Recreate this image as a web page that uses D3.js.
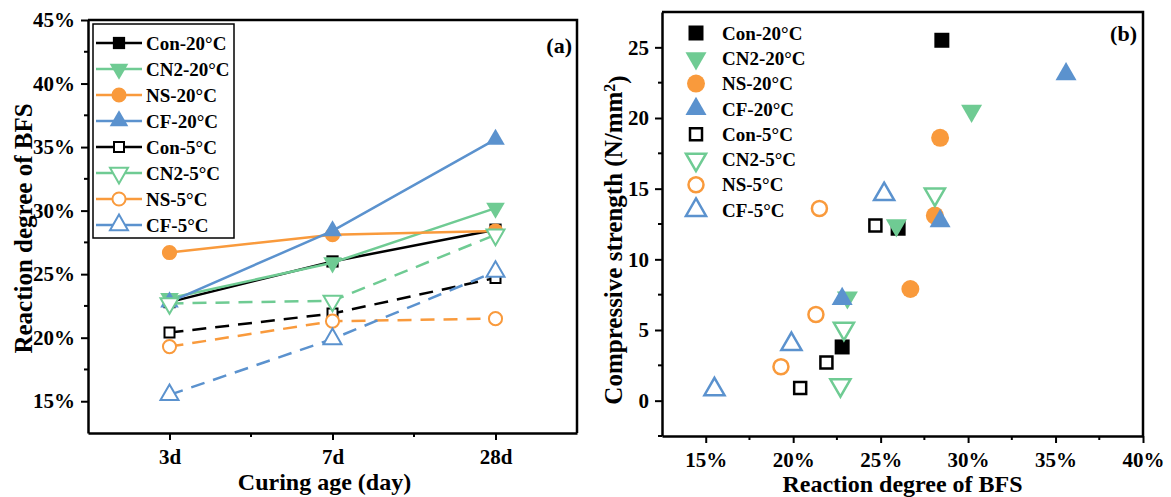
<!DOCTYPE html>
<html>
<head>
<meta charset="utf-8">
<script src="https://cdn.jsdelivr.net/npm/d3@7"></script>
<style>
  body { margin: 0; background: #fff; }
  svg { display: block; }
  text { font-family: "Liberation Serif", "Times New Roman", serif; font-weight: bold; fill: #000; }
</style>
</head>
<body>
<svg id="chart" width="1171" height="497"></svg>
<script>
// ---- data ----
var ages = ['3d', '7d', '28d'];
var seriesNames = ['Con-20°C', 'CN2-20°C', 'NS-20°C', 'CF-20°C', 'Con-5°C', 'CN2-5°C', 'NS-5°C', 'CF-5°C'];

// reaction degree of BFS (%) at 3d, 7d, 28d
var reactCon20 = [22.8, 26.0, 28.5];
var reactCN220 = [23.1, 25.9, 30.2];
var reactNS20  = [26.7, 28.1, 28.4];
var reactCF20  = [22.8, 28.4, 35.6];
var reactCon5  = [20.4, 21.9, 24.7];
var reactCN25  = [22.7, 22.9, 28.1];
var reactNS5   = [19.3, 21.3, 21.5];
var reactCF5   = [15.5, 19.9, 25.2];

// compressive strength (N/mm2) at 3d, 7d, 28d
var strCon20 = [3.8, 12.2, 25.5];
var strCN220 = [7.3, 12.4, 20.5];
var strNS20  = [7.9, 13.1, 18.6];
var strCF20  = [7.2, 12.7, 23.1];
var strCon5  = [0.9, 2.7, 12.4];
var strCN25  = [1.1, 5.1, 14.6];
var strNS5   = [2.4, 6.1, 13.6];
var strCF5   = [0.8, 4.0, 14.6];

var pctTicks = [15, 20, 25, 30, 35, 40, 45];
var bfsTicks = [15, 20, 25, 30, 35, 40];
var strengthTicks = [0, 5, 10, 15, 20, 25];

var reactAll = [reactCon20, reactCN220, reactNS20, reactCF20, reactCon5, reactCN25, reactNS5, reactCF5];
var strAll = [strCon20, strCN220, strNS20, strCF20, strCon5, strCN25, strNS5, strCF5];

// ---- styles ----
var black = '#000000', green = '#6FCB93', orange = '#F99A3C', blue = '#5B92CE';
var colors = [black, green, orange, blue, black, green, orange, blue];
var shapes = ['square', 'down', 'circle', 'up', 'square', 'down', 'circle', 'up'];

var series = seriesNames.map(function(n, i) {
    return { name: n, react: reactAll[i], str: strAll[i], color: colors[i], shape: shapes[i], filled: i < 4 };
});

var svg = d3.select('#chart');

function symbolPath(shape, area) {
    var type = d3.symbolSquare;
    if (shape === 'circle') { type = d3.symbolCircle; }
    if (shape === 'up' || shape === 'down') { type = d3.symbolTriangle; }
    return d3.symbol().type(type).size(area)();
}

// filled / open symbol areas, small for panel a and big for panel b
function drawMarker(g, s, x, y, big) {
    var areas = big ? { square: [225, 144], circle: [254, 177], up: [191, 175], down: [191, 175] }
                    : { square: [150, 100], circle: [180, 135], up: [150, 140], down: [150, 140] };
    var a = areas[s.shape][s.filled ? 0 : 1];
    var rot = s.shape === 'down' ? ' rotate(180)' : '';
    g.append('path')
        .attr('d', symbolPath(s.shape, a))
        .attr('transform', 'translate(' + x + ',' + y + ')' + rot)
        .attr('fill', s.filled ? s.color : '#fff')
        .attr('stroke', s.filled ? 'none' : s.color)
        .attr('stroke-width', big ? 2.5 : 2);
}

function styleAxis(g) {
    g.select('.domain').attr('stroke-width', 2.5).attr('stroke', '#000');
    g.selectAll('.tick line').attr('stroke-width', 2).attr('stroke', '#000');
    g.selectAll('.tick text').style('font-size', '21px').style('font-family', '"Liberation Serif", serif').style('font-weight', 'bold');
}

function minorTicks(g, vals, scale, horizontal, len) {
    vals.forEach(function(v) {
        var p = scale(v);
        if (horizontal) {
            g.append('line').attr('x1', p).attr('x2', p).attr('y1', 0).attr('y2', len).attr('stroke', '#000').attr('stroke-width', 2);
        } else {
            g.append('line').attr('y1', p).attr('y2', p).attr('x1', 0).attr('x2', -len).attr('stroke', '#000').attr('stroke-width', 2);
        }
    });
}

// ================= panel (a) =================
var aL = 88, aR = 577, aT = 20, aB = 433;
var xa = d3.scaleLinear().domain([-0.5, 2.5]).range([aL, aR]);
var ya = d3.scaleLinear().domain([12.5, 45]).range([aB, aT]);

var panelA = svg.append('g');

// series lines + markers
series.forEach(function(s) {
    var pts = s.react.map(function(v, i) { return [xa(i), ya(v)]; });
    panelA.append('path')
        .attr('d', d3.line()(pts))
        .attr('fill', 'none')
        .attr('stroke', s.color)
        .attr('stroke-width', 2.5)
        .attr('stroke-dasharray', s.filled ? null : '14,9');
    pts.forEach(function(p) { drawMarker(panelA, s, p[0], p[1], false); });
});

// axes
var axA = panelA.append('g').attr('transform', 'translate(' + aL + ',0)')
    .call(d3.axisLeft(ya).tickValues(pctTicks).tickFormat(function(d) { return d + '%'; }).tickSize(7).tickSizeOuter(0).tickPadding(6));
styleAxis(axA);
minorTicks(axA, [17.5, 22.5, 27.5, 32.5, 37.5, 42.5], ya, false, 4);

var axAx = panelA.append('g').attr('transform', 'translate(0,' + aB + ')')
    .call(d3.axisBottom(xa).tickValues([0, 1, 2]).tickFormat(function(d) { return ages[d]; }).tickSize(7).tickSizeOuter(0).tickPadding(9));
styleAxis(axAx);
minorTicks(axAx, [0.5, 1.5], xa, true, 4);

panelA.append('path')
    .attr('d', 'M' + aL + ',' + aT + 'H' + aR + 'V' + aB)
    .attr('fill', 'none').attr('stroke', '#000').attr('stroke-width', 2.5);

panelA.append('text').attr('x', 572).attr('y', 53).attr('text-anchor', 'end').style('font-size', '22px').text('(a)');

panelA.append('text')
    .attr('transform', 'translate(23,' + ((aT + aB) / 2 + 2) + ') rotate(-90)')
    .attr('text-anchor', 'middle').attr('dy', '0.35em')
    .style('font-size', '25px').text('Reaction degree of BFS');
panelA.append('text').attr('x', (aL + aR) / 2 - 8).attr('y', 490).attr('text-anchor', 'middle')
    .style('font-size', '24px').text('Curing age (day)');

// legend (a)
var legA = panelA.append('g');
legA.append('rect').attr('x', 93).attr('y', 24).attr('width', 141).attr('height', 214)
    .attr('fill', '#fff').attr('stroke', '#000').attr('stroke-width', 1.5);
series.forEach(function(s, i) {
    var y = 43 + i * 26;
    legA.append('line').attr('x1', 96).attr('x2', 142).attr('y1', y).attr('y2', y)
        .attr('stroke', s.color).attr('stroke-width', 2.5);
    drawMarker(legA, s, 119, y, false);
    legA.append('text').attr('x', 146).attr('y', y).attr('dy', '0.35em').style('font-size', '19px').text(s.name);
});

// ================= panel (b) =================
var bL = 662, bR = 1143, bT = 12, bB = 436;
var xb = d3.scaleLinear().domain([12.5, 40]).range([bL, bR]);
var yb = d3.scaleLinear().domain([-2.5, 27.5]).range([bB, bT]);

var panelB = svg.append('g');

series.forEach(function(s) {
    s.react.forEach(function(v, i) { drawMarker(panelB, s, xb(v), yb(s.str[i]), true); });
});

var axB = panelB.append('g').attr('transform', 'translate(' + bL + ',0)')
    .call(d3.axisLeft(yb).tickValues(strengthTicks).tickSize(7).tickSizeOuter(0).tickPadding(6));
styleAxis(axB);
minorTicks(axB, [-2.5, 2.5, 7.5, 12.5, 17.5, 22.5], yb, false, 4);

var axBx = panelB.append('g').attr('transform', 'translate(0,' + bB + ')')
    .call(d3.axisBottom(xb).tickValues(bfsTicks).tickFormat(function(d) { return d + '%'; }).tickSize(7).tickSizeOuter(0).tickPadding(9));
styleAxis(axBx);
minorTicks(axBx, [17.5, 22.5, 27.5, 32.5, 37.5], xb, true, 4);

panelB.append('path')
    .attr('d', 'M' + bL + ',' + bT + 'H' + bR + 'V' + bB)
    .attr('fill', 'none').attr('stroke', '#000').attr('stroke-width', 2.5);

panelB.append('text').attr('x', 1137).attr('y', 41).attr('text-anchor', 'end').style('font-size', '22px').text('(b)');

var yTitle = panelB.append('text')
    .attr('transform', 'translate(613,' + ((bT + bB) / 2 + 16) + ') rotate(-90)')
    .attr('text-anchor', 'middle').attr('dy', '0.35em')
    .style('font-size', '25px');
yTitle.append('tspan').text('Compressive strength (N/mm');
yTitle.append('tspan').attr('dy', '-0.45em').style('font-size', '16px').text('2');
yTitle.append('tspan').attr('dy', '0.45em').text(')');

panelB.append('text').attr('x', (bL + bR) / 2).attr('y', 492).attr('text-anchor', 'middle')
    .style('font-size', '24px').text('Reaction degree of BFS');

// legend (b), markers only
var legB = panelB.append('g');
series.forEach(function(s, i) {
    var y = 33 + i * 25.3;
    drawMarker(legB, s, 696, y, true);
    legB.append('text').attr('x', 722).attr('y', y).attr('dy', '0.35em').style('font-size', '19px').text(s.name);
});
</script>
</body>
</html>
